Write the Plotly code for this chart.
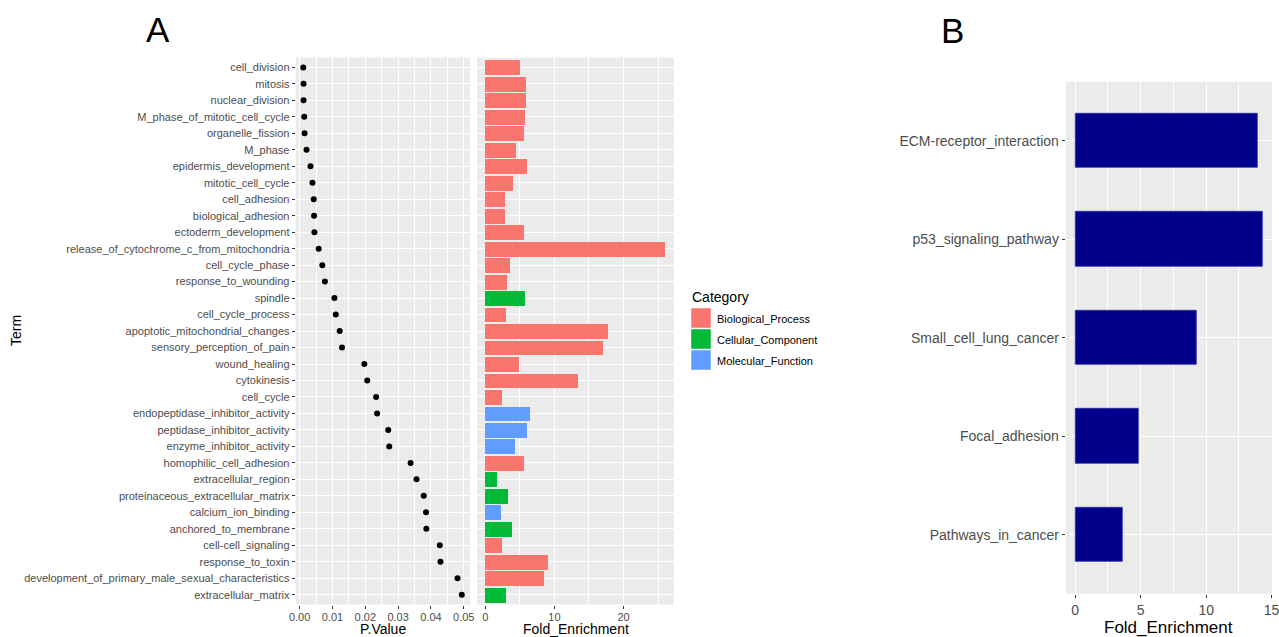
import plotly.graph_objects as go

# ---- Panel A data: GO terms ----
terms = [
    "cell_division", "mitosis", "nuclear_division", "M_phase_of_mitotic_cell_cycle",
    "organelle_fission", "M_phase", "epidermis_development", "mitotic_cell_cycle",
    "cell_adhesion", "biological_adhesion", "ectoderm_development",
    "release_of_cytochrome_c_from_mitochondria", "cell_cycle_phase",
    "response_to_wounding", "spindle", "cell_cycle_process",
    "apoptotic_mitochondrial_changes", "sensory_perception_of_pain", "wound_healing",
    "cytokinesis", "cell_cycle", "endopeptidase_inhibitor_activity",
    "peptidase_inhibitor_activity", "enzyme_inhibitor_activity",
    "homophilic_cell_adhesion", "extracellular_region",
    "proteinaceous_extracellular_matrix", "calcium_ion_binding",
    "anchored_to_membrane", "cell-cell_signaling", "response_to_toxin",
    "development_of_primary_male_sexual_characteristics", "extracellular_matrix",
]
p_values = [
    0.0011, 0.0012, 0.0012, 0.0014, 0.0015, 0.0021, 0.0033, 0.0039, 0.0043,
    0.0044, 0.0045, 0.0058, 0.0069, 0.0077, 0.0106, 0.0110, 0.0122, 0.0129,
    0.0197, 0.0206, 0.0233, 0.0236, 0.0270, 0.0273, 0.0338, 0.0356, 0.0378,
    0.0385, 0.0386, 0.0427, 0.0429, 0.0481, 0.0494,
]
fold_enrichment = [
    5.0, 5.85, 5.85, 5.7, 5.6, 4.45, 6.0, 3.97, 2.9, 2.9, 5.56, 26.0, 3.53,
    3.1, 5.8, 2.95, 17.7, 17.1, 4.84, 13.4, 2.37, 6.43, 6.1, 4.35, 5.6, 1.65,
    3.24, 2.27, 3.92, 2.47, 9.04, 8.46, 3.0,
]
categories = [
    "Biological_Process", "Biological_Process", "Biological_Process",
    "Biological_Process", "Biological_Process", "Biological_Process",
    "Biological_Process", "Biological_Process", "Biological_Process",
    "Biological_Process", "Biological_Process", "Biological_Process",
    "Biological_Process", "Biological_Process", "Cellular_Component",
    "Biological_Process", "Biological_Process", "Biological_Process",
    "Biological_Process", "Biological_Process", "Biological_Process",
    "Molecular_Function", "Molecular_Function", "Molecular_Function",
    "Biological_Process", "Cellular_Component", "Cellular_Component",
    "Molecular_Function", "Cellular_Component", "Biological_Process",
    "Biological_Process", "Biological_Process", "Cellular_Component",
]
category_levels = ["Biological_Process", "Cellular_Component", "Molecular_Function"]
category_colors = {"Biological_Process": "#F8766D",
                   "Cellular_Component": "#00BA38",
                   "Molecular_Function": "#619CFF"}

# ---- Panel B data: KEGG pathways ----
pathways = ["ECM-receptor_interaction", "p53_signaling_pathway",
            "Small_cell_lung_cancer", "Focal_adhesion", "Pathways_in_cancer"]
pathway_fold = [13.9, 14.3, 9.27, 4.84, 3.59]

W, H = 1279, 637
FONT = "Liberation Sans, Arial, sans-serif"
TICK_GREY = "#4D4D4D"
PANEL_BG = "#EBEBEB"


def px_x(v):
    return v / W


def px_y(v):
    return 1 - v / H


fig = go.Figure()

# dot plot of p-values
fig.add_trace(go.Scatter(
    x=p_values, y=terms, mode="markers",
    marker=dict(color="black", size=6),
    xaxis="x", yaxis="y", showlegend=False, hoverinfo="x+y",
))

# fold enrichment bars coloured by category
fig.add_trace(go.Bar(
    x=fold_enrichment, y=terms, orientation="h", width=0.9,
    marker=dict(color=[category_colors[c] for c in categories], line=dict(width=0)),
    xaxis="x2", yaxis="y2", showlegend=False,
))

# KEGG pathway bars
fig.add_trace(go.Bar(
    x=pathway_fold, y=pathways, orientation="h", width=0.55,
    marker=dict(color="#00008B", line=dict(color="#3030A8", width=0.8)),
    xaxis="x3", yaxis="y3", showlegend=False,
))

n = len(terms)
common_x = dict(
    showgrid=True, gridcolor="white", gridwidth=1.3, zeroline=False,
    ticks="outside", ticklen=3, tickcolor="#333333", tickwidth=1,
    showline=False, automargin=False, ticklabeloverflow="allow",
)
common_y = dict(
    showgrid=True, gridcolor="white", gridwidth=1.3, zeroline=False,
    ticks="outside", ticklen=3, tickcolor="#333333", tickwidth=1,
    type="category", automargin=False,
)
minor = dict(showgrid=True, gridcolor="white", gridwidth=0.6)

fig.update_layout(
    width=W, height=H,
    margin=dict(l=0, r=0, t=0, b=0, autoexpand=False),
    paper_bgcolor="white", plot_bgcolor=PANEL_BG,
    font=dict(family=FONT, color=TICK_GREY, size=11),
    bargap=0,
    xaxis=dict(common_x, domain=[px_x(295.7), px_x(470)], range=[-0.0012, 0.0519],
               tickvals=[0, 0.01, 0.02, 0.03, 0.04, 0.05],
               ticktext=["0.00", "0.01", "0.02", "0.03", "0.04", "0.05"],
               minor=dict(minor, tickvals=[0.005, 0.015, 0.025, 0.035, 0.045]),
               anchor="y", ticklabelstandoff=-1,
               tickfont=dict(size=11, color=TICK_GREY)),
    yaxis=dict(common_y, domain=[px_y(604.6), px_y(57.5)],
               categoryorder="array", categoryarray=terms,
               range=[n - 0.4, -0.6], anchor="x",
               tickfont=dict(size=11, color=TICK_GREY)),
    xaxis2=dict(common_x, domain=[px_x(477), px_x(674)], range=[-1.2, 27.3],
                tickvals=[0, 10, 20],
                minor=dict(minor, tickvals=[5, 15, 25]),
                anchor="y2", ticklabelstandoff=-1,
                tickfont=dict(size=11, color=TICK_GREY)),
    yaxis2=dict(common_y, domain=[px_y(604.6), px_y(57.5)],
                categoryorder="array", categoryarray=terms,
                range=[n - 0.4, -0.6], anchor="x2",
                showticklabels=False, ticks=""),
    xaxis3=dict(common_x, domain=[px_x(1065.7), px_x(1272)], range=[-0.73, 15.03],
                tickvals=[0, 5, 10, 15],
                minor=dict(minor, tickvals=[2.5, 7.5, 12.5]),
                anchor="y3", tickfont=dict(size=14, color=TICK_GREY)),
    yaxis3=dict(common_y, domain=[px_y(593.7), px_y(81.7)],
                categoryorder="array", categoryarray=pathways,
                range=[len(pathways) - 0.4, -0.6], anchor="x3",
                tickfont=dict(size=14, color=TICK_GREY)),
)

annotations = []


def text(x, y, s, size, color="black", xanchor="center", yanchor="middle", angle=0):
    annotations.append(dict(
        x=px_x(x), y=px_y(y), xref="paper", yref="paper", text=s,
        showarrow=False, xanchor=xanchor, yanchor=yanchor, textangle=angle,
        font=dict(family=FONT, size=size, color=color),
    ))


# panel tags
text(158, 30, "A", 35)
text(952, 31, "B", 35)

# axis titles
text(383, 629, "P.Value", 14)
text(575.5, 629, "Fold_Enrichment", 14)
text(16, 331, "Term", 14, angle=-90)
text(1168, 627, "Fold_Enrichment", 17)

# legend for categories
text(690, 297, "Category", 14, xanchor="left")
shapes = []
key_top = 308
for i, cat in enumerate(category_levels):
    y0 = key_top + i * 21
    shapes.append(dict(
        type="rect", xref="paper", yref="paper",
        x0=px_x(691), x1=px_x(711), y0=px_y(y0 + 20), y1=px_y(y0),
        fillcolor=category_colors[cat], line=dict(color="white", width=0.5),
    ))
    text(715, y0 + 10.5, cat, 11, color="black", xanchor="left")

fig.update_layout(annotations=annotations, shapes=shapes)

fig.write_html("out.html")
